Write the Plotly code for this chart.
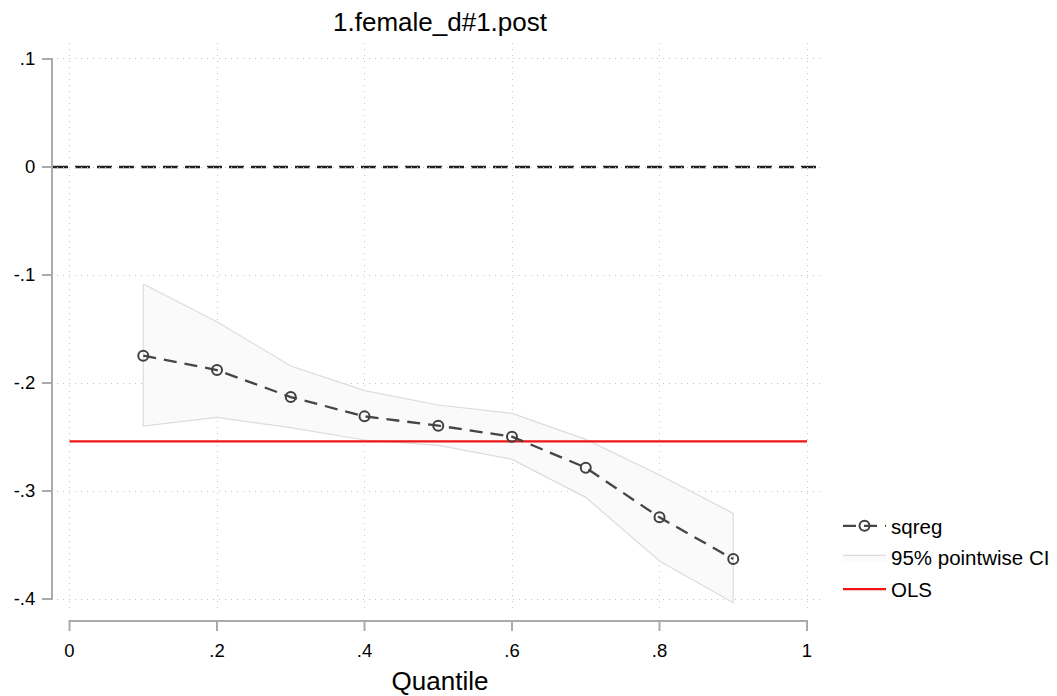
import plotly.graph_objects as go

# ---------------- data ----------------
quantiles = [0.1, 0.2, 0.3, 0.4, 0.5, 0.6, 0.7, 0.8, 0.9]
sqreg_coef = [-0.1747, -0.1880, -0.2130, -0.2309, -0.2395, -0.2497, -0.2784, -0.3244, -0.3630]
ci_upper = [-0.1083, -0.1432, -0.1843, -0.2071, -0.2204, -0.2281, -0.2522, -0.2852, -0.3207]
ci_lower = [-0.2398, -0.2318, -0.2414, -0.2528, -0.2577, -0.2707, -0.3059, -0.3648, -0.4034]
ols_x = [0, 1]
ols_coef = -0.254
x_ticks = [0, 0.2, 0.4, 0.6, 0.8, 1]
x_tick_labels = ["0", ".2", ".4", ".6", ".8", "1"]
y_ticks = [0.1, 0, -0.1, -0.2, -0.3, -0.4]
y_tick_labels = [".1", "0", "-.1", "-.2", "-.3", "-.4"]
title_text = "1.female_d#1.post"
x_title = "Quantile"

# ---------------- layout geometry ----------------
# The page body adds an 8px margin, so the figure is drawn 8px smaller
# and all reference pixel positions are shifted by OFF.
OFF = 8
W, H = 1057 - OFF, 696 - OFF
PL, PR, PT, PB = 57, 823, 43, 612          # plot area in reference pixels
ML, MR, MT, MB = PL - OFF, (1057 - PR), PT - OFF, (696 - PB)
XR = [-0.01695, 1.0217]
YR = [-0.41204, 0.11481]
PW = PR - PL
PH = PB - PT

def px_x(px):
    return (px - PL) / PW

def px_y(py):
    return (PB - py) / PH

def val_x(v):
    return (v - XR[0]) / (XR[1] - XR[0])

def val_y(v):
    return (v - YR[0]) / (YR[1] - YR[0])

def cont_x(px):
    return (px - OFF) / W

def cont_y(py):
    return 1 - (py - OFF) / H

FONT = "Liberation Sans, Arial, sans-serif"
AXC = "#ababab"

fig = go.Figure()

# CI band
fig.add_trace(go.Scatter(
    x=quantiles + quantiles[::-1] + [quantiles[0]],
    y=ci_upper + ci_lower[::-1] + [ci_upper[0]],
    mode="lines", fill="toself",
    fillcolor="#fafafa",
    line=dict(color="#dcdcdc", width=1.2),
    name="95% pointwise CI", legendrank=2, hoverinfo="skip",
    legendgroup="b",
))

# OLS line
fig.add_trace(go.Scatter(
    x=ols_x, y=[ols_coef] * len(ols_x), mode="lines",
    line=dict(color="#f01414", width=2.2),
    name="OLS", legendrank=3, legendgroup="c",
))

# sqreg
fig.add_trace(go.Scatter(
    x=quantiles, y=sqreg_coef, mode="lines+markers",
    line=dict(color="#454545", width=2.3, dash="13px,8px"),
    marker=dict(symbol="circle-open", size=10, color="#404040",
                line=dict(width=2, color="#404040")),
    name="sqreg", legendrank=1, legendgroup="a",
))

shapes = []
# zero reference line
shapes.append(dict(type="line", xref="paper", yref="paper",
                   x0=px_x(53), x1=px_x(817), y0=val_y(0), y1=val_y(0),
                   line=dict(color="#222222", width=2.4, dash="15px,7px"),
                   layer="between"))
# y axis line + ticks
shapes.append(dict(type="line", xref="paper", yref="paper",
                   x0=px_x(52), x1=px_x(52), y0=val_y(min(y_ticks)), y1=val_y(max(y_ticks)),
                   line=dict(color=AXC, width=2)))
for v in y_ticks:
    shapes.append(dict(type="line", xref="paper", yref="paper",
                       x0=px_x(42), x1=px_x(53), y0=val_y(v), y1=val_y(v),
                       line=dict(color=AXC, width=2)))
# x axis line + ticks
shapes.append(dict(type="line", xref="paper", yref="paper",
                   x0=val_x(min(x_ticks)), x1=val_x(max(x_ticks)), y0=px_y(621), y1=px_y(621),
                   line=dict(color=AXC, width=2)))
for v in x_ticks:
    shapes.append(dict(type="line", xref="paper", yref="paper",
                       x0=val_x(v), x1=val_x(v), y0=px_y(620), y1=px_y(631),
                       line=dict(color=AXC, width=2)))

fig.update_layout(
    width=W, height=H,
    margin=dict(l=ML, r=MR, t=MT, b=MB, autoexpand=False),
    paper_bgcolor="white", plot_bgcolor="white",
    font=dict(family=FONT, color="#000000"),
    title=dict(text=title_text, x=0.5, xref="paper", xanchor="center",
               y=cont_y(22), yref="container", yanchor="middle",
               font=dict(size=26, family=FONT, color="#000000")),
    xaxis=dict(range=XR, tickvals=x_ticks, ticktext=x_tick_labels,
               automargin=False,
               showgrid=True, gridcolor="#c4c4c4", gridwidth=1, griddash="1px,5px",
               zeroline=False, showline=False,
               ticks="outside", ticklen=22, tickcolor="rgba(0,0,0,0)",
               tickfont=dict(size=18.5, family=FONT, color="#000000"),
               title=dict(text=x_title, standoff=13,
                          font=dict(size=26, family=FONT, color="#000000"))),
    yaxis=dict(range=YR, tickvals=y_ticks, ticktext=y_tick_labels,
               automargin=False,
               showgrid=True, gridcolor="#c4c4c4", gridwidth=1, griddash="1px,5px",
               zeroline=False, showline=False,
               ticks="outside", ticklen=17, tickcolor="rgba(0,0,0,0)",
               tickfont=dict(size=18.5, family=FONT, color="#000000")),
    legend=dict(x=cont_x(838), y=cont_y(506), xanchor="left", yanchor="top",
                xref="container", yref="container",
                font=dict(size=20.5, family=FONT, color="#000000"),
                traceorder="grouped", tracegroupgap=2, itemwidth=43,
                bgcolor="rgba(0,0,0,0)"),
    shapes=shapes,
    showlegend=True,
)

fig.write_html("out.html")
